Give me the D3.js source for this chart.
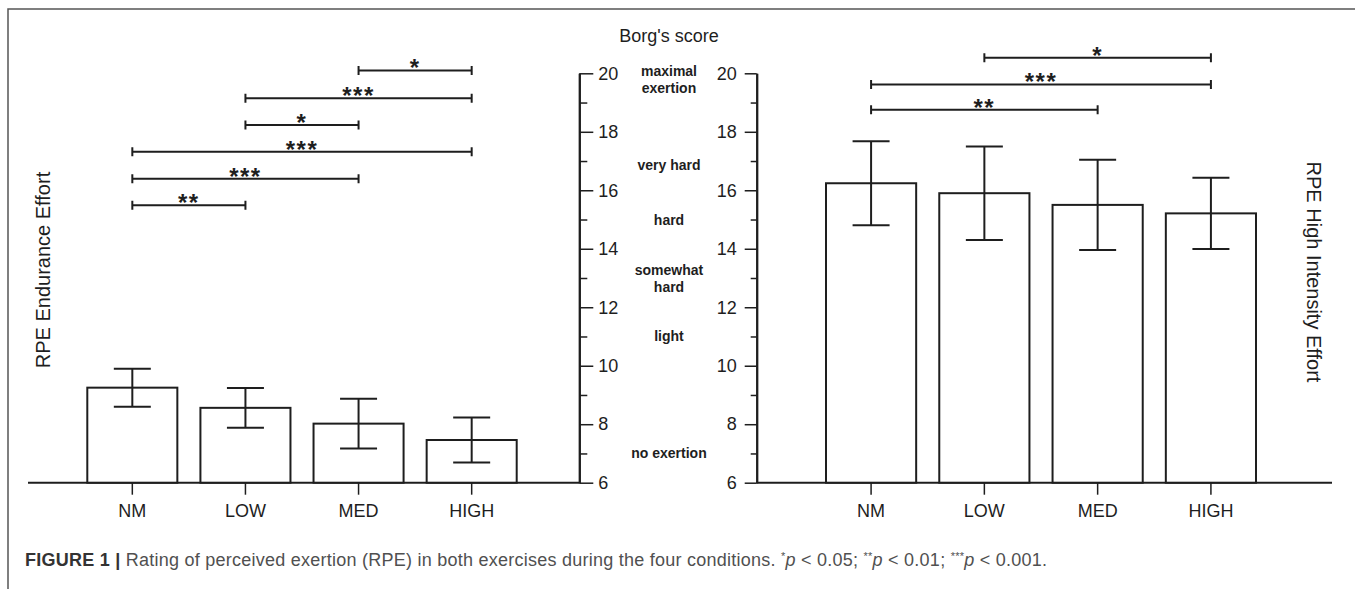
<!DOCTYPE html>
<html>
<head>
<meta charset="utf-8">
<script src="https://cdn.jsdelivr.net/npm/d3@7"></script>
<style>
  body { margin: 0; background: #fff; }
  svg { display: block; font-family: "Liberation Sans", Arial, sans-serif; }
</style>
</head>
<body>
<div class="rpe-figure"></div>
<script>
// conditions
const categories = ['NM', 'LOW', 'MED', 'HIGH']
// RPE endurance effort (mean, sd)
const enduranceMean = [9.25, 8.56, 8.02, 7.46]
const enduranceErr = [0.65, 0.68, 0.85, 0.77]
// RPE high intensity effort (mean, sd)
const intensityMean = [16.24, 15.9, 15.5, 15.21]
const intensityErr = [1.44, 1.6, 1.54, 1.22]
// borg scale
const majorTicks = [6, 8, 10, 12, 14, 16, 18, 20]
const minorTicks = [7, 9, 11, 13, 15, 17, 19]
const borgText = [['maximal', 'exertion'], ['very hard'], ['hard'], ['somewhat', 'hard'], ['light'], ['no exertion']]
const borgLevel = [19.8, 16.85, 15, 13, 11, 7]
// significance brackets
const enduranceSig = [
    { from: 'MED', to: 'HIGH', level: 20.1, mark: '*' },
    { from: 'LOW', to: 'HIGH', level: 19.15, mark: '***' },
    { from: 'LOW', to: 'MED', level: 18.23, mark: '*' },
    { from: 'NM', to: 'HIGH', level: 17.32, mark: '***' },
    { from: 'NM', to: 'MED', level: 16.39, mark: '***' },
    { from: 'NM', to: 'LOW', level: 15.49, mark: '**' }
]
const intensitySig = [
    { from: 'LOW', to: 'HIGH', level: 20.53, mark: '*' },
    { from: 'NM', to: 'HIGH', level: 19.62, mark: '***' },
    { from: 'NM', to: 'MED', level: 18.75, mark: '**' }
]

const W = 1355, H = 589
const ink = '#1e1e1e'
const svg = d3.select('.rpe-figure')
    .append('svg')
    .attr('width', W)
    .attr('height', H)

// frame
svg.append('path')
    .attr('d', `M1355,9H8V589`)
    .attr('fill', 'none')
    .attr('stroke', '#555')
    .attr('stroke-width', 1.5)

const yScale = d3.scaleLinear().domain([6, 20]).range([482.7, 73.3])
const baseY = yScale(6)

const xLeft = d3.scaleBand().domain(categories).range([87.3, 516.7]).paddingInner(0.204).paddingOuter(0)
const xRight = d3.scaleBand().domain(categories).range([826, 1256]).paddingInner(0.204).paddingOuter(0)

function drawPanel(g, x, means, errs, sigs, lineFrom, lineTo){
    // baseline
    g.append('line')
        .attr('x1', lineFrom).attr('x2', lineTo)
        .attr('y1', baseY).attr('y2', baseY)
        .attr('stroke', ink).attr('stroke-width', 2)

    const data = categories.map((c, i) => ({ cat: c, mean: means[i], err: errs[i] }))

    g.selectAll('.bar')
        .data(data)
        .enter()
        .append('rect')
        .attr('class', 'bar')
        .attr('x', d => x(d.cat))
        .attr('y', d => yScale(d.mean))
        .attr('width', x.bandwidth())
        .attr('height', d => baseY - yScale(d.mean))
        .attr('fill', '#fff')
        .attr('stroke', ink)
        .attr('stroke-width', 2)

    const cap = 18.5
    const eb = g.selectAll('.err')
        .data(data)
        .enter()
        .append('g')
        .attr('class', 'err')
        .attr('transform', d => `translate(${x(d.cat) + x.bandwidth() / 2},0)`)
        .attr('stroke', ink)
        .attr('stroke-width', 2)
    eb.append('line')
        .attr('y1', d => yScale(d.mean + d.err))
        .attr('y2', d => yScale(d.mean - d.err))
    eb.append('line')
        .attr('x1', -cap).attr('x2', cap)
        .attr('y1', d => yScale(d.mean + d.err))
        .attr('y2', d => yScale(d.mean + d.err))
    eb.append('line')
        .attr('x1', -cap).attr('x2', cap)
        .attr('y1', d => yScale(d.mean - d.err))
        .attr('y2', d => yScale(d.mean - d.err))

    // category axis
    const xAxis = g.append('g')
        .attr('transform', `translate(0,${baseY})`)
        .call(d3.axisBottom(x).tickSize(12).tickSizeOuter(0).tickPadding(10))
    xAxis.select('.domain').remove()
    xAxis.selectAll('.tick line').attr('stroke', ink).attr('stroke-width', 1.5)
    xAxis.selectAll('.tick text')
        .attr('font-size', 18)
        .attr('font-family', '"Liberation Sans", Arial, sans-serif')
        .attr('fill', ink)

    // significance brackets
    const sg = g.selectAll('.sig')
        .data(sigs)
        .enter()
        .append('g')
        .attr('class', 'sig')
    const cx = c => x(c) + x.bandwidth() / 2
    sg.append('path')
        .attr('d', d => {
            const y = yScale(d.level), a = cx(d.from), b = cx(d.to)
            return `M${a},${y - 4.5}V${y + 4.5}M${a},${y}H${b}M${b},${y - 4.5}V${y + 4.5}`
        })
        .attr('fill', 'none')
        .attr('stroke', ink)
        .attr('stroke-width', 2)
    sg.append('text')
        .attr('x', d => (cx(d.from) + cx(d.to)) / 2)
        .attr('y', d => yScale(d.level) + 6)
        .attr('text-anchor', 'middle')
        .attr('font-size', 24)
        .attr('font-weight', 'bold')
        .attr('letter-spacing', 1.5)
        .attr('fill', ink)
        .text(d => d.mark)
}

drawPanel(svg.append('g'), xLeft, enduranceMean, enduranceErr, enduranceSig, 28, 579.3)
drawPanel(svg.append('g'), xRight, intensityMean, intensityErr, intensitySig, 756.7, 1332)

// borg axes
function styleAxis(a){
    a.select('.domain').attr('stroke', ink).attr('stroke-width', 2)
    a.selectAll('.tick line').attr('stroke', ink).attr('stroke-width', 1.5)
    a.selectAll('.tick text')
        .attr('font-size', 18)
        .attr('font-family', '"Liberation Sans", Arial, sans-serif')
        .attr('fill', ink)
}
const leftAxis = svg.append('g').attr('transform', 'translate(579.3,0)')
leftAxis.append('g').call(d3.axisRight(yScale).tickValues(minorTicks).tickSize(8).tickSizeOuter(0).tickFormat(''))
    .call(styleAxis)
leftAxis.append('g').call(d3.axisRight(yScale).tickValues(majorTicks).tickSize(14).tickSizeOuter(0).tickPadding(5))
    .call(styleAxis)

const rightAxis = svg.append('g').attr('transform', 'translate(756.7,0)')
rightAxis.append('g').call(d3.axisLeft(yScale).tickValues(minorTicks).tickSize(6).tickSizeOuter(0).tickFormat(''))
    .call(styleAxis)
rightAxis.append('g').call(d3.axisLeft(yScale).tickValues(majorTicks).tickSize(12).tickSizeOuter(0).tickPadding(8))
    .call(styleAxis)

// borg descriptors
svg.append('text')
    .attr('x', 669).attr('y', 42)
    .attr('text-anchor', 'middle')
    .attr('font-size', 18)
    .attr('fill', ink)
    .text("Borg's score")

borgText.forEach((lines, i) => {
    const t = svg.append('text')
        .attr('text-anchor', 'middle')
        .attr('font-size', 14)
        .attr('font-weight', 'bold')
        .attr('fill', ink)
    lines.forEach((s, j) => {
        t.append('tspan')
            .attr('x', 669)
            .attr('y', yScale(borgLevel[i]) + 5 + (j - (lines.length - 1) / 2) * 17)
            .text(s)
    })
})

// axis titles
svg.append('text')
    .attr('transform', 'translate(50,270) rotate(-90)')
    .attr('text-anchor', 'middle')
    .attr('font-size', 20)
    .attr('fill', ink)
    .text('RPE Endurance Effort')
svg.append('text')
    .attr('transform', 'translate(1307,272) rotate(90)')
    .attr('text-anchor', 'middle')
    .attr('font-size', 20)
    .attr('fill', ink)
    .text('RPE High Intensity Effort')

// caption
const cap = svg.append('text')
    .attr('x', 25).attr('y', 566)
    .attr('font-size', 18)
    .attr('fill', '#505050')
    .attr('textLength', 1022)
    .attr('lengthAdjust', 'spacing')
cap.append('tspan').attr('font-weight', 'bold').attr('fill', '#333').text('FIGURE 1 | ')
cap.append('tspan').text('Rating of perceived exertion (RPE) in both exercises during the four conditions. ')
const pv = [['*', '0.05; '], ['**', '0.01; '], ['***', '0.001.']]
pv.forEach(([s, v]) => {
    cap.append('tspan').attr('font-size', 11).attr('dy', -6).text(s)
    cap.append('tspan').attr('font-style', 'italic').attr('dy', 6).text('p')
    cap.append('tspan').text(' < ' + v)
})
</script>
</body>
</html>
